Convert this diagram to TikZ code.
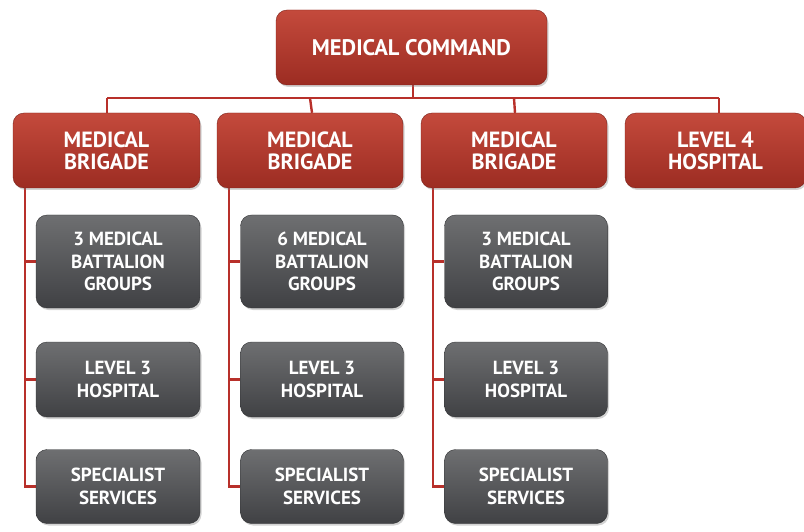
\documentclass[tikz,border=0pt]{standalone}
\usepackage{fontspec}
\setmainfont{PT Sans}
\usetikzlibrary{shadows,backgrounds}
\definecolor{redtop}{HTML}{C44A3C}
\definecolor{redbot}{HTML}{9C2C22}
\definecolor{graytop}{HTML}{6E6F71}
\definecolor{graybot}{HTML}{404144}
\definecolor{linered}{HTML}{B8302A}
\tikzset{
  box/.style={rectangle, rounded corners=11pt, align=center, text=white,
    font=\bfseries\fontsize{22}{22}\selectfont, inner sep=0pt,
    drop shadow={shadow xshift=1.5pt, shadow yshift=-2pt, opacity=0.35}},
  redbox/.style={box, top color=redtop, bottom color=redbot, draw=redbot!80!black, line width=0.4pt},
  graybox/.style={box, top color=graytop, bottom color=graybot, draw=graybot!80!black, line width=0.4pt,
    font=\bfseries\fontsize{19}{22.5}\selectfont},
  conn/.style={draw=linered, line width=2.4pt}
}
\begin{document}
\begin{tikzpicture}[x=1pt,y=-1pt]
\useasboundingbox (0,0) rectangle (804,532);
% top
\node[redbox, minimum width=271pt, minimum height=75pt, font=\bfseries\fontsize{22.5}{22}\selectfont] (cmd) at (411.5,47.5) {MEDICAL COMMAND};
% brigades
\node[redbox, minimum width=187pt, minimum height=75pt] (b1) at (106.5,150.5) {MEDICAL\\BRIGADE};
\node[redbox, minimum width=186pt, minimum height=75pt] (b2) at (310,150.5) {MEDICAL\\BRIGADE};
\node[redbox, minimum width=186pt, minimum height=75pt] (b3) at (514,150.5) {MEDICAL\\BRIGADE};
\node[redbox, minimum width=181pt, minimum height=75pt] (b4) at (715.5,150.5) {LEVEL 4\\HOSPITAL};
% gray column 1
\node[graybox, minimum width=164pt, minimum height=93pt] (g11) at (118,261.5) {3 MEDICAL\\BATTALION\\GROUPS};
\node[graybox, minimum width=164pt, minimum height=75pt] (g12) at (118,379.5) {LEVEL 3\\HOSPITAL};
\node[graybox, minimum width=164pt, minimum height=74pt] (g13) at (118,486.5) {SPECIALIST\\SERVICES};
% gray column 2
\node[graybox, minimum width=163pt, minimum height=93pt] (g21) at (322,261.5) {6 MEDICAL\\BATTALION\\GROUPS};
\node[graybox, minimum width=163pt, minimum height=75pt] (g22) at (322,379.5) {LEVEL 3\\HOSPITAL};
\node[graybox, minimum width=163pt, minimum height=74pt] (g23) at (322,486.5) {SPECIALIST\\SERVICES};
% gray column 3
\node[graybox, minimum width=163pt, minimum height=93pt] (g31) at (526,261.5) {3 MEDICAL\\BATTALION\\GROUPS};
\node[graybox, minimum width=163pt, minimum height=75pt] (g32) at (526,379.5) {LEVEL 3\\HOSPITAL};
\node[graybox, minimum width=163pt, minimum height=74pt] (g33) at (526,486.5) {SPECIALIST\\SERVICES};
% bus coordinates
\coordinate (busL) at (107,98);
\coordinate (busR) at (719,98);
\coordinate (busC) at (413,98);
\begin{scope}[on background layer]
\draw[conn] (busL) -- (busR);
\draw[conn] (cmd.south -| busC) -- (busC);
\draw[conn] (busL) -- (b1.north -| busL);
\draw[conn] (b2.north |- busL) -- ([xshift=2pt]b2.north);
\draw[conn] (b3.north |- busL) -- ([xshift=1pt]b3.north);
\draw[conn] (busR) -- (b4.north -| busR);
% column spines
\foreach \b/\g in {b1/g1, b2/g2, b3/g3}{
  \draw[conn] ([xshift=12pt]\b.south west) |- (\g3.west);
  \draw[conn] ([xshift=12pt]\b.south west |- \g1.west) -- (\g1.west);
  \draw[conn] ([xshift=12pt]\b.south west |- \g2.west) -- (\g2.west);
}
\end{scope}
\end{tikzpicture}
\end{document}
